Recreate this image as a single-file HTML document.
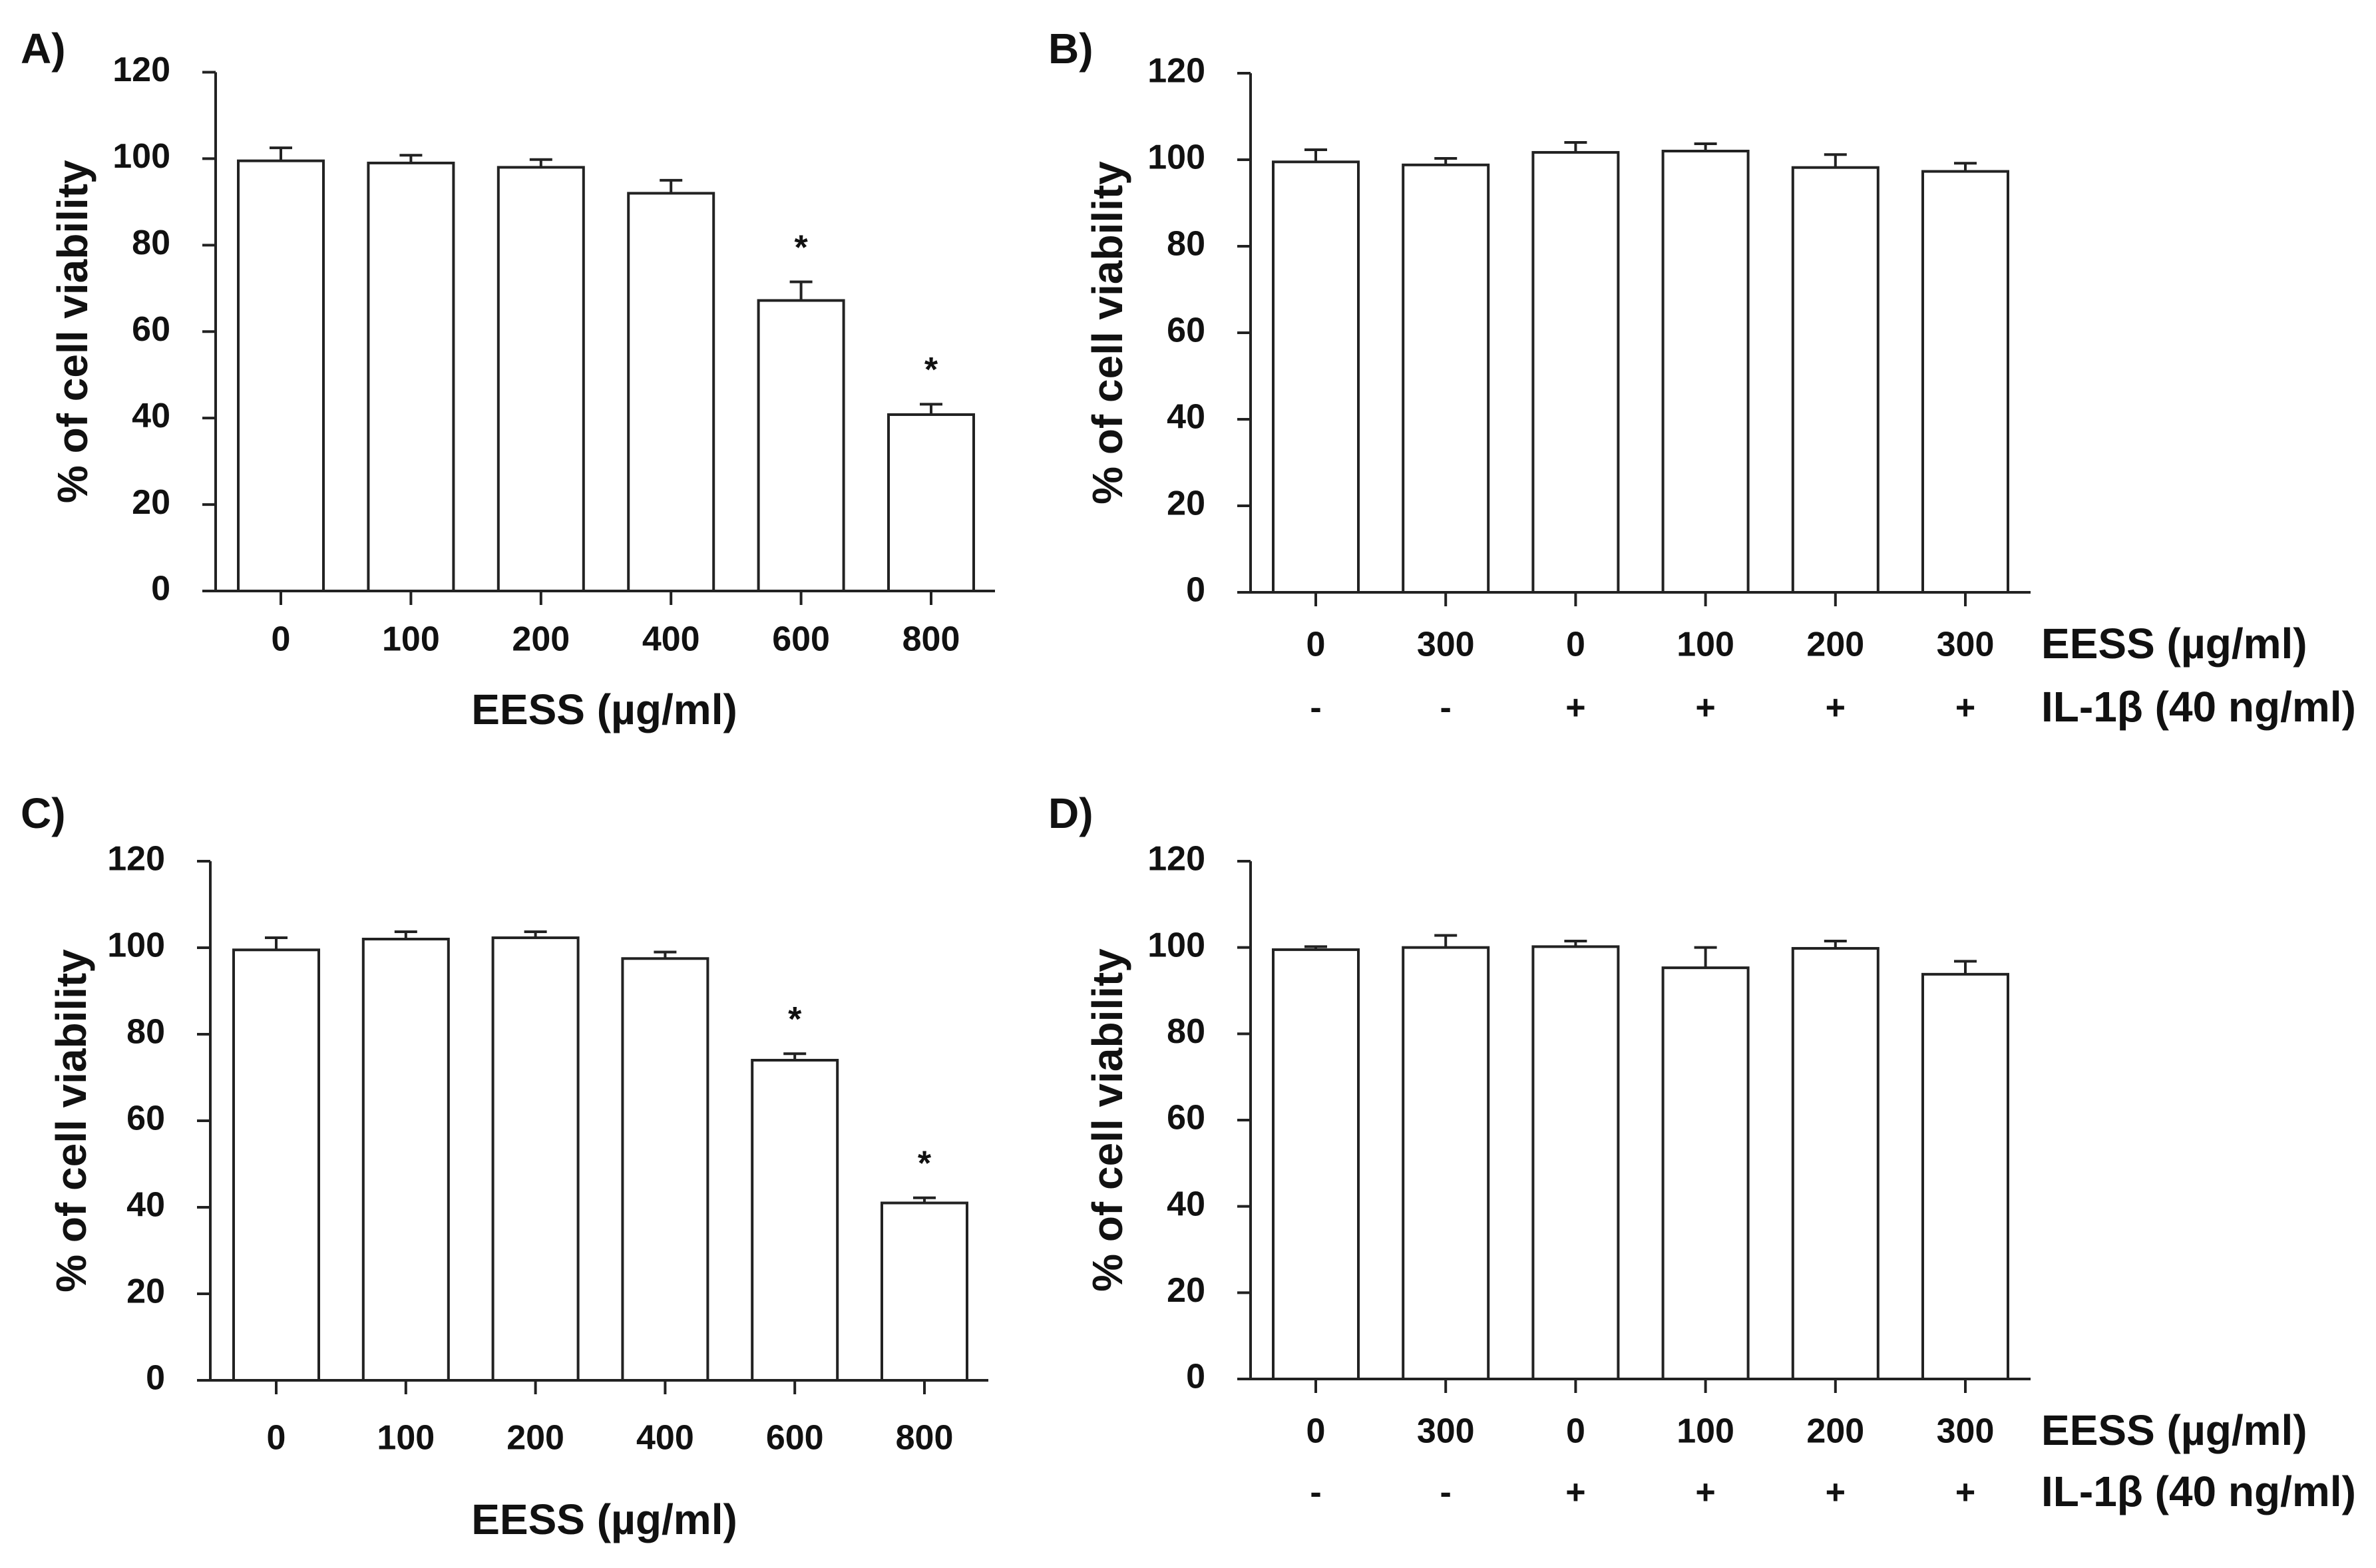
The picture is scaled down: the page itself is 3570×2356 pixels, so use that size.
<!DOCTYPE html>
<html><head><meta charset="utf-8"><style>
html,body{margin:0;padding:0;background:#fff;}
svg{display:block;}
text{font-family:"Liberation Sans",Arial,sans-serif;font-weight:bold;fill:#111;}
</style></head><body>
<svg id="fig" width="3570" height="2356" viewBox="0 0 3570 2356" xmlns="http://www.w3.org/2000/svg"></svg>
<script>
const yTicks = [0, 20, 40, 60, 80, 100, 120];
const catsA = ["0","100","200","400","600","800"];
const valsA = [99.5, 99, 98, 92, 67.2, 40.8];
const errA = [3, 1.8, 1.8, 3, 4.3, 2.4];
const starA = [false,false,false,false,true,true];
const catsB = ["0","300","0","100","200","300"];
const ilB = ["-","-","+","+","+","+"];
const valsB = [99.5, 98.8, 101.7, 102, 98.2, 97.3];
const errB = [2.8, 1.5, 2.3, 1.7, 3, 1.9];
const catsC = ["0","100","200","400","600","800"];
const valsC = [99.5, 102, 102.3, 97.5, 74, 41];
const errC = [2.8, 1.7, 1.4, 1.5, 1.5, 1.2];
const starC = [false,false,false,false,true,true];
const catsD = ["0","300","0","100","200","300"];
const ilD = ["-","-","+","+","+","+"];
const valsD = [99.5, 100, 100.2, 95.3, 99.8, 93.8];
const errD = [0.7, 2.8, 1.3, 4.7, 1.7, 3];

const NS = "http://www.w3.org/2000/svg";
const svg = document.getElementById('fig');
function mk(tag, attrs, parent){
  const e = document.createElementNS(NS, tag);
  for (const k in attrs) e.setAttribute(k, attrs[k]);
  (parent||svg).appendChild(e);
  return e;
}
function txt(parent, x, y, s, size, anchor, name){
  const t = mk('text', {x:x, y:y, 'font-size':size, 'text-anchor':anchor||'middle', 'dominant-baseline':'middle'}, parent);
  t.textContent = s;
  
  
  return t;
}
function panel(o){
  const g = mk('g', {});
  
  
  const y = v => o.y0 - (o.y0 - o.y120) * v / 120;
  const x = i => o.x0 + i * o.dx;
  // label
  txt(g, o.lx, o.ly, o.id + ")", 64, 'start', 'panel-label');
  // bars
  o.vals.forEach((v, i) => {
    const cx = x(i), hw = 64;
    const top = y(v), et = y(v + o.err[i]);
    const eb = mk('line', {x1:cx, x2:cx, y1:top, y2:et, stroke:'#222', 'stroke-width':4}, g);
    
    
    const ec = mk('line', {x1:cx-17, x2:cx+17, y1:et, y2:et, stroke:'#222', 'stroke-width':4}, g);
    
    
    const r = mk('rect', {x:cx-hw, y:top, width:hw*2, height:o.y0-top, fill:'#fff', stroke:'#222', 'stroke-width':4}, g);
    
    
    if (o.star && o.star[i]) txt(g, cx, et - 48, "*", 52, 'middle', 'significance-asterisk');
  });
  // axes
  const ya = mk('line', {x1:o.ax, x2:o.ax, y1:o.y120, y2:o.y0, stroke:'#222', 'stroke-width':4}, g);
  
  
  const xa = mk('line', {x1:o.ax-20, x2:o.xEnd, y1:o.y0, y2:o.y0, stroke:'#222', 'stroke-width':4}, g);
  
  
  yTicks.forEach(t => {
    const tk = mk('line', {x1:o.ax-20, x2:o.ax, y1:y(t), y2:y(t), stroke:'#222', 'stroke-width':4}, g);
    
    
    txt(g, o.ax - 68, y(t), String(t), 52, 'end', 'y-tick-label');
  });
  o.cats.forEach((c, i) => {
    const tk = mk('line', {x1:x(i), x2:x(i), y1:o.y0, y2:o.y0+21, stroke:'#222', 'stroke-width':4}, g);
    
    
    txt(g, x(i), o.row1, c, 52, 'middle', 'x-tick-label');
    if (o.il) txt(g, x(i), o.row2, o.il[i], 52, 'middle', 'il1b-label');
  });
  // y title
  const yt = mk('text', {x:0, y:0, 'font-size':64, 'text-anchor':'middle', 'dominant-baseline':'middle',
    transform:`translate(${o.tx},${(o.y0+o.y120)/2}) rotate(-90)`}, g);
  yt.textContent = "% of cell viability";
  
  
  if (o.il) {
    txt(g, 3067, o.row1, "EESS (µg/ml)", 64, 'start', 'x-axis-title');
    txt(g, 3067, o.row2, "IL-1β (40 ng/ml)", 64, 'start', 'il1b-title');
  } else {
    txt(g, 908, o.row2, "EESS (µg/ml)", 64, 'middle', 'x-axis-title');
  }
}
panel({id:'A', lx:31, ly:78, ax:324, y0:888, y120:108.5, x0:422, dx:195.4, xEnd:1495, row1:964, row2:1071, tx:114,
  cats:catsA, vals:valsA, err:errA, star:starA});
panel({id:'B', lx:1575, ly:78, ax:1879, y0:890, y120:110, x0:1977, dx:195.2, xEnd:3051, row1:972, row2:1067, tx:1669,
  cats:catsB, vals:valsB, err:errB, il:ilB});
panel({id:'C', lx:31, ly:1227, ax:316, y0:2074, y120:1294, x0:415, dx:194.8, xEnd:1485, row1:2164, row2:2288, tx:112,
  cats:catsC, vals:valsC, err:errC, star:starC});
panel({id:'D', lx:1575, ly:1227, ax:1879, y0:2072, y120:1294, x0:1977, dx:195.2, xEnd:3051, row1:2154, row2:2246, tx:1669,
  cats:catsD, vals:valsD, err:errD, il:ilD});
</script>
</body></html>
